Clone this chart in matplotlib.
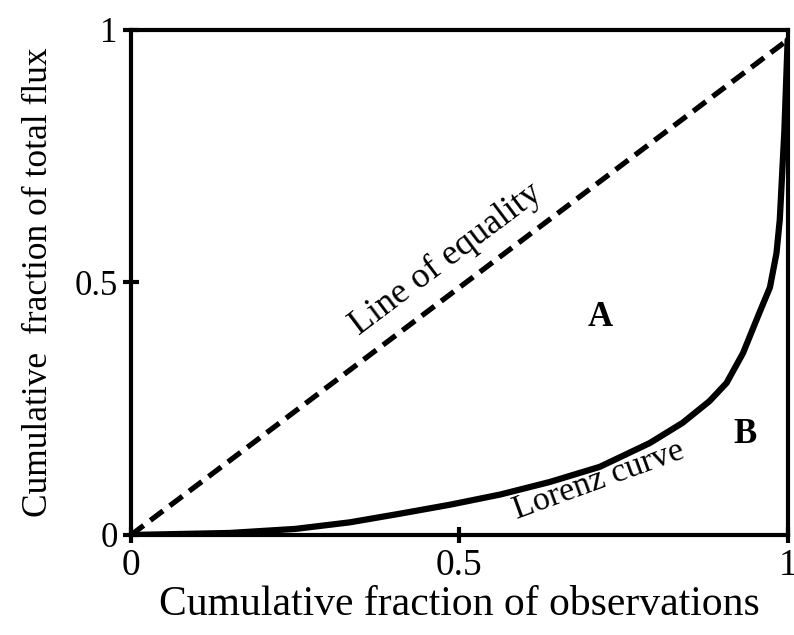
import matplotlib
matplotlib.use("Agg")
import matplotlib.pyplot as plt

plt.rcParams['font.family'] = ['Liberation Serif', 'DejaVu Serif']

# Data
equality_x = [0.0, 1.0]
equality_y = [0.0, 0.98]
lorenz_x = [0.0, 0.15, 0.25, 0.333, 0.409, 0.486, 0.562, 0.638, 0.714, 0.79, 0.84,
            0.881, 0.907, 0.932, 0.957, 0.973, 0.983, 0.988, 0.995, 1.0]
lorenz_y = [0.0, 0.004, 0.012, 0.025, 0.042, 0.06, 0.08, 0.105, 0.135, 0.182, 0.222,
            0.265, 0.301, 0.36, 0.44, 0.49, 0.558, 0.624, 0.80, 0.98]
ticks = [0, 0.5, 1]
tick_labels = ['0', '0.5', '1']

fig = plt.figure(figsize=(7.94, 6.35), dpi=100)
ax = fig.add_axes([0.165, 0.1575, 0.827, 0.7955])

ax.plot(equality_x, equality_y, color='black', lw=3.8, linestyle=(0, (3, 1.6)), solid_capstyle='butt')
ax.plot(lorenz_x, lorenz_y, color='black', lw=4.5, solid_joinstyle='round', solid_capstyle='round')

ax.set_xlim(0, 1)
ax.set_ylim(0, 1)
ax.set_xticks(ticks)
ax.set_xticklabels(tick_labels)
ax.set_yticks(ticks)
ax.set_yticklabels(tick_labels)
for s in ax.spines.values():
    s.set_linewidth(3)
ax.tick_params(direction='inout', length=11, width=3, pad=4)
ax.tick_params(axis='x', labelsize=27)
ax.tick_params(axis='y', labelsize=25)

ax.set_xlabel('Cumulative fraction of observations', fontsize=30, labelpad=2)
ax.set_ylabel('Cumulative  fraction of total flux', fontsize=25.5, labelpad=14)

ax.text(0.48, 0.545, 'Line of equality', rotation=37, fontsize=26, ha='center', va='center')
ax.text(0.712, 0.108, 'Lorenz curve', rotation=20, fontsize=24.5, ha='center', va='center')
ax.text(0.714, 0.43, 'A', fontsize=25, fontweight='bold', ha='center', va='center')
ax.text(0.935, 0.198, 'B', fontsize=25, fontweight='bold', ha='center', va='center')

fig.savefig('out.png', dpi=100)
